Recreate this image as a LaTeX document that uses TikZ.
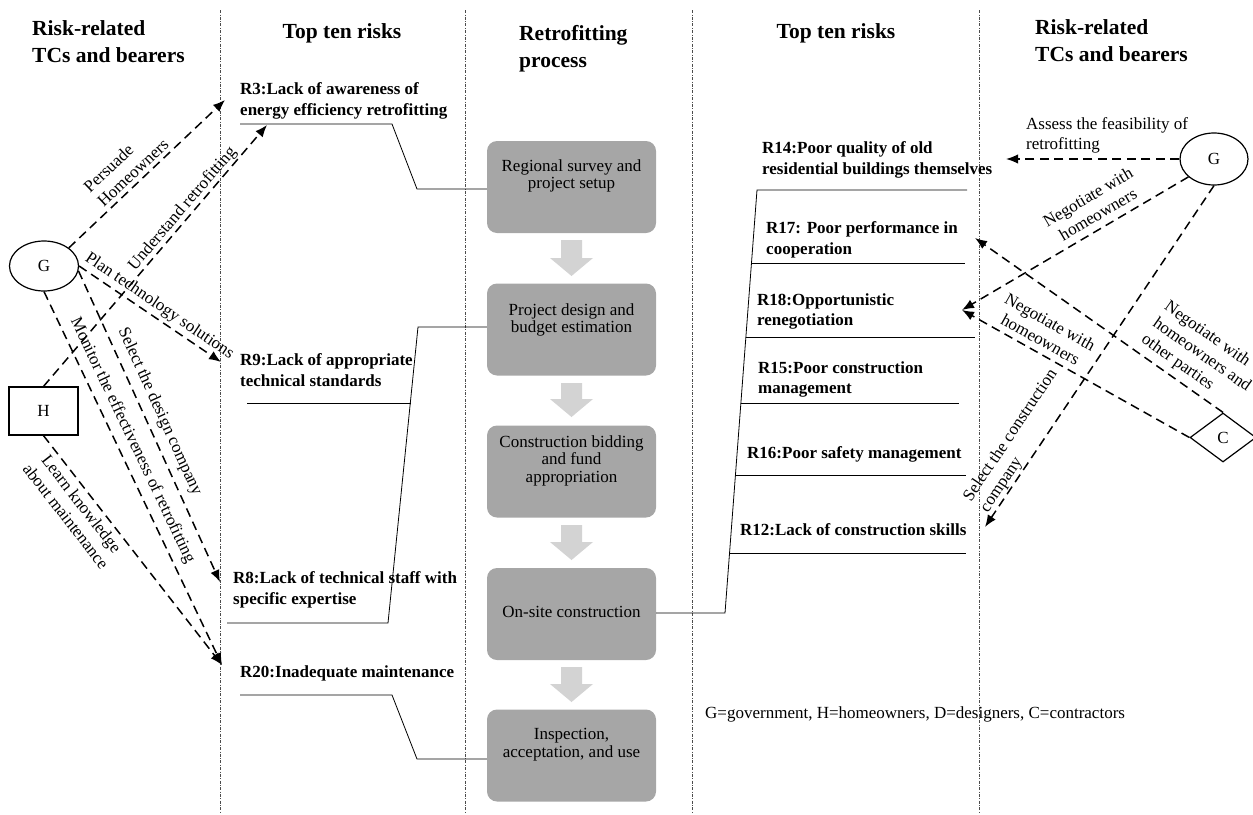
\documentclass[tikz,border=0pt]{standalone}
\usepackage{fontspec}
\setmainfont{Liberation Serif}
\usetikzlibrary{arrows.meta,shapes.geometric}
\definecolor{procgray}{HTML}{A6A6A6}
\definecolor{flowgray}{HTML}{D3D3D3}
\begin{document}
\begin{tikzpicture}[x=1pt,y=-1pt,
  colsep/.style={line width=0.6pt, black!70, dash pattern=on 3pt off 1.5pt on 0.7pt off 1.5pt},
  head/.style={font=\fontsize{21.5}{27}\selectfont\bfseries, inner sep=0pt, align=left},
  risk/.style={font=\fontsize{17}{20.5}\selectfont\bfseries, inner sep=0pt, align=left, anchor=north west},
  procbox/.style={fill=procgray, rounded corners=10pt, minimum width=169pt, minimum height=92pt, inner sep=0pt},
  proctext/.style={font=\fontsize{17}{17.5}\selectfont, align=center, inner sep=0pt, anchor=north},
  flow/.style={fill=flowgray},
  link/.style={line width=0.8pt},
  rel/.style={line width=1.5pt, dash pattern=on 9pt off 5.5pt, -{Latex[length=12pt,width=9.5pt]}},
  lab/.style={font=\fontsize{17}{20}\selectfont, inner sep=0pt, sloped},
  actor/.style={draw, line width=1.2pt, font=\fontsize{17}{20}\selectfont, inner sep=0pt}
]
\useasboundingbox (0,0) rectangle (1253,814);

% column separators
\foreach \x in {220,465,692,979} \draw[colsep] (\x,10) -- (\x,812);

% headers
\node[head, anchor=north west] (h1) at (32,20) {Risk-related\\TCs and bearers};
\node[head, anchor=base] (h2) at (342,38) {Top ten risks};
\node[head, anchor=north west] (h3) at (519,25) {Retrofitting\\process};
\node[head, anchor=base] (h4) at (836,38) {Top ten risks};
\node[head, anchor=north west] (h5) at (1035,19) {Risk-related\\TCs and bearers};

% process boxes
\node[procbox] (p1) at (571.5,187) {};
\node[procbox] (p2) at (571.5,329.5) {};
\node[procbox] (p3) at (571.5,471.5) {};
\node[procbox] (p4) at (571.5,614) {};
\node[procbox] (p5) at (571.5,755.5) {};
\node[proctext] (t1) at (571.5,159.4) {Regional survey and\\project setup};
\node[proctext] (t2) at (571.5,303.4) {Project design and\\budget estimation};
\node[proctext] (t3) at (571.5,435.4) {Construction bidding\\and fund\\appropriation};
\node[proctext] (t4) at (571.5,606.4) {On-site construction};
\node[proctext] (t5) at (571.5,728.4) {Inspection,\\acceptation, and use};

% flow arrows
\foreach \a/\b in {240/276, 383/417, 525/560, 667/702}
  \fill[flow] (561,\a) -- (582,\a) -- (582,\b-18) -- (593,\b-18) -- (571.5,\b) -- (550,\b-18) -- (561,\b-18) -- cycle;

% left risks
\node[risk] (r3) at (240,82.4) {R3:Lack of awareness of\\energy efficiency retrofitting};
\node[risk] (r9) at (240,353.4) {R9:Lack of appropriate\\technical standards};
\node[risk] (r8) at (233,571.4) {R8:Lack of technical staff with\\specific expertise};
\node[risk] (r20) at (240,665.4) {R20:Inadequate maintenance};

% right risks
\node[risk] (r14) at (762,141.4) {R14:Poor quality of old\\residential buildings themselves};
\node[risk] (r17) at (766,221.4) {R17: Poor performance in\\cooperation};
\node[risk] (r18) at (757,293.4) {R18:Opportunistic\\renegotiation};
\node[risk] (r15) at (758,361.4) {R15:Poor construction\\management};
\node[risk] (r16) at (747,446.4) {R16:Poor safety management};
\node[risk] (r12) at (740,523.4) {R12:Lack of construction skills};

% risk links (left)
\coordinate (u3l) at (240,124); \coordinate (u3r) at (392,124); \coordinate (k3) at (417,189);
\draw[link] (u3l) -- (u3r) -- (k3) -- (k3 -| p1.west);
\coordinate (k2) at (418,327); \coordinate (k8) at (388,623); \coordinate (u8l) at (227,623);
\draw[link] (k2 -| p2.west) -- (k2) -- (k8) -- (u8l);
\coordinate (u9l) at (247,403); \coordinate (u9r) at (411,403);
\draw[link] (u9l) -- (u9r);
\coordinate (u20l) at (240,695); \coordinate (u20r) at (392,695); \coordinate (k20) at (417,759);
\draw[link] (u20l) -- (u20r) -- (k20) -- (k20 -| p5.west);

% risk links (right)
\coordinate (kr4) at (725,613); \coordinate (kr14) at (757,190); \coordinate (u14r) at (967,190);
\draw[link] (kr4 -| p4.east) -- (kr4) -- (kr14) -- (u14r);
\draw[link] (751.5,263) -- (965,263);
\draw[link] (745.9,337) -- (975,337);
\draw[link] (740.9,403) -- (959,403);
\draw[link] (735.4,475) -- (966,475);
\draw[link] (729.5,553) -- (966,553);

% actors
\node[actor, ellipse, minimum width=69pt, minimum height=50pt] (gL) at (44,266) {G};
\node[actor, rectangle, minimum width=69pt, minimum height=48pt] (hL) at (43.5,411) {H};
\node[actor, ellipse, minimum width=68pt, minimum height=52pt] (gR) at (1214,159) {G};
\node[actor, diamond, minimum width=66pt, minimum height=49pt] (cR) at (1223,437.5) {C};

% arrow targets
\coordinate (r3a) at (225,100);
\coordinate (r3b) at (267,125);
\coordinate (r9in) at (221,362);
\coordinate (r8in) at (220,582);
\coordinate (r20in) at (222,665);
\coordinate (r14in) at (1006,159);
\coordinate (r17in) at (975,238);
\coordinate (r18in) at (962,310);
\coordinate (r12in) at (985,527);

% left relations
\draw[rel] (gL.north east) -- node[lab, above=4pt, pos=.457, align=left] {Persuade\\Homeowners} (r3a);
\draw[rel] (hL.north) -- node[lab, above=1pt, pos=.655] {Understand retrofitting} (r3b);
\draw[rel] (gL.east) -- node[lab, above=3pt, pos=.52] {Plan technology solutions} (r9in);
\draw[rel] (gL.-8) -- node[lab, above=7pt, pos=.474] {Select the design company} (r8in);
\draw[rel] (gL.south) -- node[lab, above=7pt, pos=.4175] {Monitor the effectiveness of retrofitting} (r20in);
\draw[rel] (hL.south) -- node[lab, below=5pt, pos=.266, align=center] {Learn knowledge\\about maintenance} (r20in);

% right relations
\draw[rel] (gR.west) -- node[lab, above=5pt, pos=.417, align=left] {Assess the feasibility of\\retrofitting} (r14in);
\draw[rel] (gR.215) -- node[lab, above=7pt, pos=.369, align=center] {Negotiate with\\homeowners} (r18in);
\draw[rel] (gR.south) -- node[lab, above=1pt, pos=.78, align=left] {Select the construction\\company} (r12in);
\draw[rel] (cR.west) -- node[lab, above=6pt, pos=.682, align=center] {Negotiate with\\homeowners} (r18in);
\draw[rel] (cR.north) -- node[lab, above=6pt, pos=.166, align=left] {Negotiate with\\homeowners and\\other parties} (r17in);

% legend
\node[font=\fontsize{17}{20}\selectfont, anchor=base west, inner sep=0pt] (legend) at (705,718) {G=government, H=homeowners, D=designers, C=contractors};
\end{tikzpicture}
\end{document}
